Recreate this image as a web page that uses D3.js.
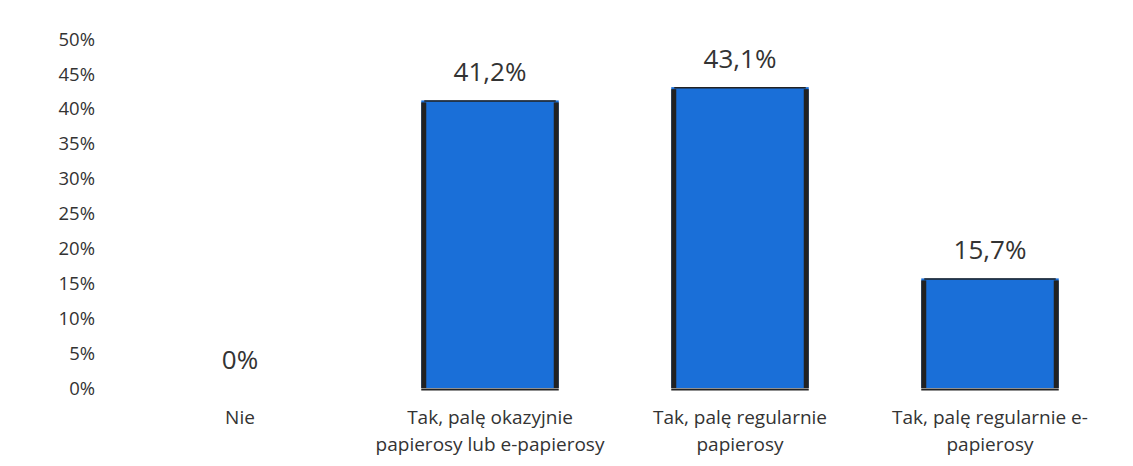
<!DOCTYPE html>
<html>
<head>
<meta charset="utf-8">
<script src="https://cdn.jsdelivr.net/npm/d3@7"></script>
<style>
  body { margin: 0; background: #fff; }
  text { font-family: "Open Sans", "Noto Sans", sans-serif; fill: #333; }
</style>
</head>
<body>
<svg id="chart" width="1133" height="466"></svg>
<script>
const categories = [
  ["Nie"],
  ["Tak, palę okazyjnie", "papierosy lub e-papierosy"],
  ["Tak, palę regularnie", "papierosy"],
  ["Tak, palę regularnie e-", "papierosy"]
];
const values = [0, 41.2, 43.1, 15.7];
const valueLabels = ["0%", "41,2%", "43,1%", "15,7%"];
const yTicks = [0, 5, 10, 15, 20, 25, 30, 35, 40, 45, 50];

const svg = d3.select("#chart");
const margin = { top: 39, right: 18, bottom: 78, left: 115 };
const width = 1133, height = 466;

const x = d3.scaleBand()
  .domain(d3.range(values.length))
  .range([margin.left, width - margin.right])
  .paddingInner(0.45)
  .paddingOuter(0.225);

const y = d3.scaleLinear().domain([0, 50]).range([height - margin.bottom, margin.top]);

// y axis labels
svg.append("g")
  .selectAll("text")
  .data(yTicks)
  .join("text")
  .attr("x", 95)
  .attr("y", d => y(d))
  .attr("dy", "0.36em")
  .attr("text-anchor", "end")
  .attr("font-size", 18.5)
  .text(d => d + "%");

// bars
const bars = svg.append("g")
  .selectAll("g")
  .data(values.map((v, i) => ({ v, i })).filter(d => d.v > 0))
  .join("g");

bars.append("rect")
  .attr("x", d => x(d.i))
  .attr("y", d => y(d.v))
  .attr("width", x.bandwidth())
  .attr("height", d => y(0) - y(d.v))
  .attr("fill", "#1a6fd8");

// dark side edges
bars.each(function(d) {
  const g = d3.select(this);
  const x0 = x(d.i), x1 = x(d.i) + x.bandwidth();
  [x0, x1 - 5].forEach(xx => {
    g.append("rect")
      .attr("x", xx)
      .attr("y", y(d.v) + 2)
      .attr("width", 5)
      .attr("height", y(0) - y(d.v) - 2)
      .attr("fill", "#222");
  });
  g.append("line")
    .attr("x1", x0 + 3).attr("x2", x1 - 3)
    .attr("y1", y(d.v) + 0.5).attr("y2", y(d.v) + 0.5)
    .attr("stroke", "#222").attr("stroke-width", 1.5);
  g.append("line")
    .attr("x1", x0).attr("x2", x1)
    .attr("y1", y(0) + 1.5).attr("y2", y(0) + 1.5)
    .attr("stroke", "#222").attr("stroke-width", 2);
});

// value labels
svg.append("g")
  .selectAll("text")
  .data(values)
  .join("text")
  .attr("x", (d, i) => x(i) + x.bandwidth() / 2)
  .attr("y", d => y(d) - 19)
  .attr("text-anchor", "middle")
  .attr("font-size", 26)
  .text((d, i) => valueLabels[i]);

// category labels
const cat = svg.append("g")
  .selectAll("text")
  .data(categories)
  .join("text")
  .attr("x", (d, i) => x(i) + x.bandwidth() / 2)
  .attr("y", 424)
  .attr("text-anchor", "middle")
  .attr("font-size", 19);

cat.selectAll("tspan")
  .data(d => d)
  .join("tspan")
  .attr("x", function() { return d3.select(this.parentNode).attr("x"); })
  .attr("dy", (d, j) => j === 0 ? 0 : 27)
  .text(d => d);
</script>
</body>
</html>
